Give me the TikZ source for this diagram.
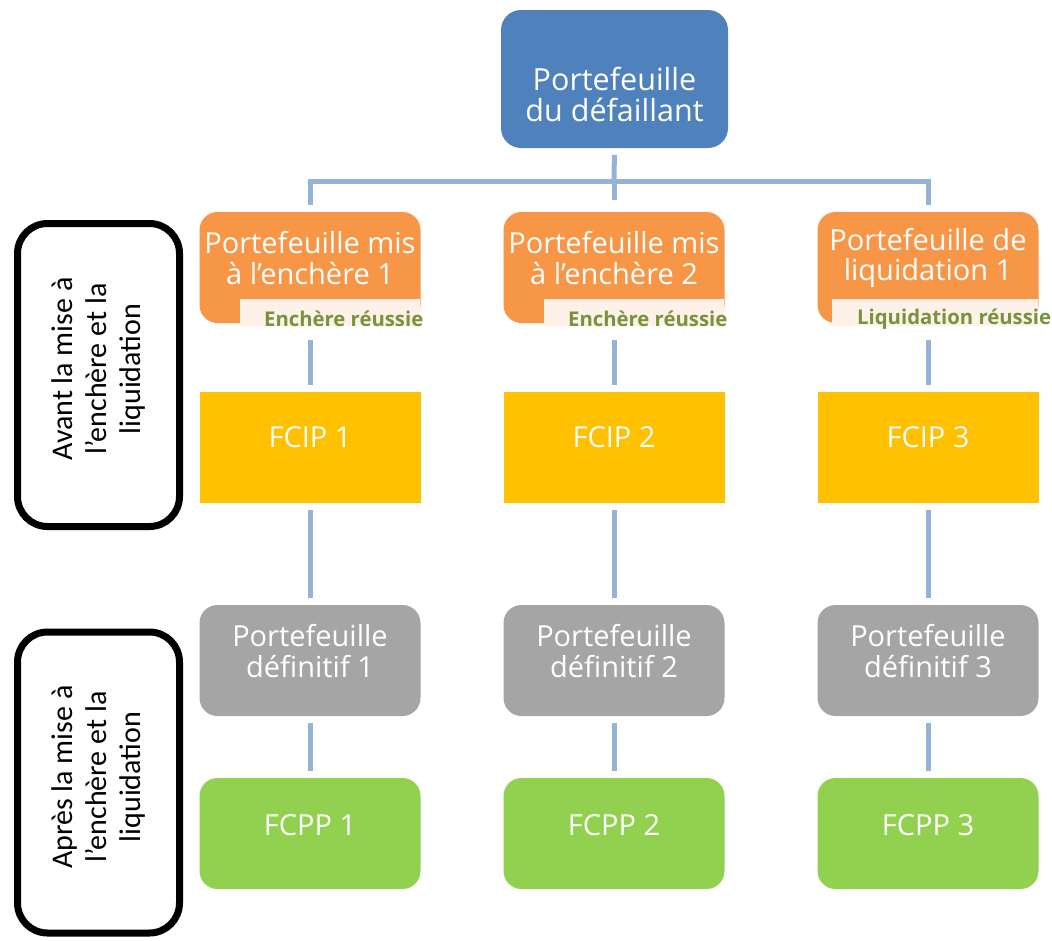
\documentclass[tikz,border=0pt]{standalone}
\usepackage{fontspec}
\setmainfont{Open Sans}
\newfontfamily\sidefont{Carlito}
\definecolor{cblue}{HTML}{4F81BD}
\definecolor{corange}{HTML}{F79646}
\definecolor{cyellow}{HTML}{FFC000}
\definecolor{cgray}{HTML}{A5A5A5}
\definecolor{cgreen}{HTML}{92D050}
\definecolor{cline}{HTML}{95B3D7}
\definecolor{ccream}{HTML}{FDF1E8}
\definecolor{ctxtgreen}{HTML}{77933C}
\begin{document}
\begin{tikzpicture}[x=1pt,y=-1pt,
  box/.style={minimum width=221pt,minimum height=111pt,inner sep=0pt,outer sep=0pt,rounded corners=18pt,draw=none},
  boxtext/.style={text=white,font=\fontsize{29}{30.5}\selectfont,align=center},
  tag/.style={fill=ccream,minimum width=180pt,minimum height=27pt,inner sep=0pt,anchor=north west},
  tagtext/.style={text=ctxtgreen,font=\bfseries\fontsize{20.3}{22}\selectfont,anchor=west,inner sep=0pt},
  conn/.style={draw=cline,line width=5pt},
  side/.style={draw=black,line width=7pt,rounded corners=30pt,minimum width=162pt,inner sep=0pt},
  sidetext/.style={font=\sidefont\fontsize{30}{34}\selectfont,align=center,rotate=90}]
\useasboundingbox (0,0) rectangle (1052,940);

% top
\node[box,fill=cblue,minimum width=227pt,minimum height=138pt,rounded corners=20pt] (top) at (614.5,79) {};
\node[boxtext,font=\fontsize{30.5}{31}\selectfont] (toptext) at (614.5,94) {Portefeuille\\du défaillant};

% row 1
\foreach \i/\x/\t in {1/310/{Portefeuille mis\\à l'enchère 1},2/614/{Portefeuille mis\\à l'enchère 2},3/928/{Portefeuille de\\liquidation 1}}{
  \node[box,fill=corange] (o\i) at (\x,267.5) {};
  \node[boxtext] (ot\i) at (\x,258) {\t};
}
\node[tag] (tag1) at (240,299) {};
\node[tagtext] (tt1) at (264,319) {Enchère réussie};
\node[tag] (tag2) at (544,299) {};
\node[tagtext] (tt2) at (568,319) {Enchère réussie};
\node[tag,minimum width=206pt] (tag3) at (832,299) {};
\node[tagtext] (tt3) at (857,319) {Liquidation réussie};

% rows 2-4
\foreach \i/\x in {1/310,2/614,3/928}{
  \node[box,fill=cyellow,rounded corners=0pt] (y\i) at (\x,447.5) {};
  \node[boxtext] (yt\i) at (\x,437.5) {FCIP \i};
  \node[box,fill=cgray] (g\i) at (\x,660.5) {};
  \node[boxtext] (gt\i) at (\x,651) {Portefeuille\\définitif \i};
  \node[box,fill=cgreen] (f\i) at (\x,833.5) {};
  \node[boxtext] (ft\i) at (\x,825.5) {FCPP \i};
}

% connectors
\coordinate (hub) at (614,181);
\draw[conn,shorten <=7pt] (top.south) -- (hub);
\draw[conn,shorten >=7pt] (hub) -| (o1.north);
\draw[conn,shorten >=7pt] (hub) -| (o3.north);
\draw[conn,shorten >=12pt] (hub) -- (o2.north);
\foreach \i in {1,2,3}{
  \draw[conn,shorten <=17pt,shorten >=7pt] (o\i.south) -- (y\i.north);
  \draw[conn,shorten <=7pt,shorten >=7pt] (y\i.south) -- (g\i.north);
  \draw[conn,shorten <=7pt,shorten >=7pt] (g\i.south) -- (f\i.north);
}

% side boxes
\node[side,minimum height=303pt] (before) at (98.5,375) {};
\node[sidetext] (beforetext) at (98.5,369) {Avant la mise à\\l’enchère et la\\liquidation};
\node[side,minimum height=301pt] (after) at (98.5,782.5) {};
\node[sidetext] (aftertext) at (98.5,777) {Après la mise à\\l’enchère et la\\liquidation};
\end{tikzpicture}
\end{document}
